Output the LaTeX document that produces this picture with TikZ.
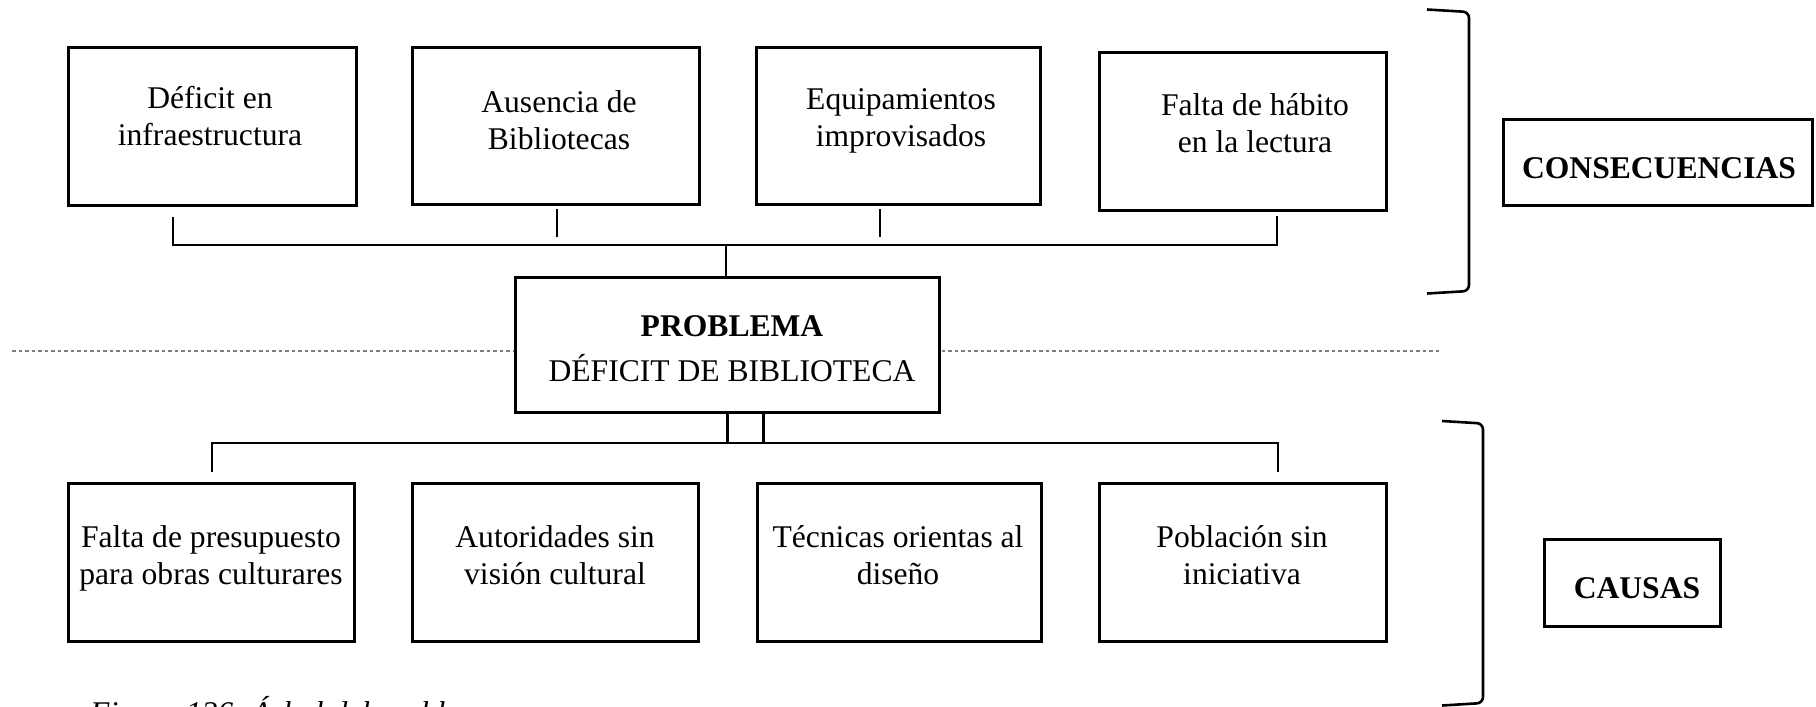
\documentclass[tikz,border=0pt]{standalone}
\usepackage{fontspec}
\setmainfont{Liberation Serif}
\begin{document}
\begin{tikzpicture}[x=1pt,y=-1pt,
  box/.style={draw, line width=2.6pt, inner sep=0pt, fill=white},
  txt/.style={font=\fontsize{31.6}{37}\selectfont, align=center, inner sep=0pt},
  conn/.style={line width=2.2pt},
  brk/.style={line width=2.6pt, rounded corners=6pt},
  sep/.style={draw=black!50, line width=1.8pt, dash pattern=on 3.5pt off 3pt}]
\useasboundingbox (0,0) rectangle (1816,707);
\clip (0,0) rectangle (1816,707);
% separator
\coordinate (dl) at (12,351);
\coordinate (dr) at (1442,351);
\draw[sep] (dl) -- (dr);
% top row
\node[box, minimum width=288pt, minimum height=158pt] (c1) at (212.5,126.5) {};
\node[box, minimum width=287pt, minimum height=157pt] (c2) at (556,126) {};
\node[box, minimum width=284pt, minimum height=157pt] (c3) at (898.5,126) {};
\node[box, minimum width=287pt, minimum height=158pt] (c4) at (1243,131.5) {};
\node[txt] (c1t) at (210,119.5) {Déficit en\strut\\infraestructura\strut};
\node[txt] (c2t) at (559,124) {Ausencia de\strut\\Bibliotecas\strut};
\node[txt] (c3t) at (901,120.5) {Equipamientos\strut\\improvisados\strut};
\node[txt] (c4t) at (1255,126.5) {Falta de hábito\strut\\en la lectura\strut};
% problem
\node[box, minimum width=424pt, minimum height=135pt] (prob) at (727.5,345) {};
\node[txt, font=\fontsize{31.6}{45}\selectfont] (probt) at (732,350) {\textbf{PROBLEMA}\strut\\DÉFICIT DE BIBLIOTECA\strut};
% bottom row
\node[box, minimum width=286pt, minimum height=158pt] (b1) at (211.5,562.5) {};
\node[box, minimum width=286pt, minimum height=158pt] (b2) at (555.5,562.5) {};
\node[box, minimum width=284pt, minimum height=158pt] (b3) at (899.5,562.5) {};
\node[box, minimum width=287pt, minimum height=158pt] (b4) at (1243,562.5) {};
\node[txt] (b1t) at (211,558.5) {Falta de presupuesto\strut\\para obras culturares\strut};
\node[txt] (b2t) at (555,558.5) {Autoridades sin\strut\\visión cultural\strut};
\node[txt] (b3t) at (898,558.5) {Técnicas orientas al\strut\\diseño\strut};
\node[txt] (b4t) at (1242,558.5) {Población sin\strut\\iniciativa\strut};
% side labels
\node[box, minimum width=309pt, minimum height=86pt] (cons) at (1658,162.5) {};
\node[txt] (const) at (1659,171.5) {\textbf{CONSECUENCIAS}\strut};
\node[box, minimum width=176pt, minimum height=87pt] (caus) at (1632.5,583) {};
\node[txt] (caust) at (1637,591) {\textbf{CAUSAS}\strut};
% top connectors
\coordinate (tbus) at (726,245);
\draw[conn] ([xshift=-39.5pt,yshift=-10pt]c1.south) |- (tbus) -| ([xshift=34pt,yshift=-4.5pt]c4.south);
\draw[conn] (tbus) -- (tbus |- prob.north);
\draw[conn] ([xshift=1pt,yshift=-3.5pt]c2.south) -- ++(0,28);
\draw[conn] ([xshift=-18.5pt,yshift=-3.5pt]c3.south) -- ++(0,28);
% bottom connectors
\coordinate (bbus) at (745,443);
\draw[conn] (prob.south) -- (prob.south |- bbus);
\draw[conn] ([xshift=36pt]prob.south) -- ([xshift=36pt]prob.south |- bbus);
\draw[conn] ([xshift=0.5pt,yshift=10.5pt]b1.north) |- (bbus) -| ([xshift=35pt,yshift=10.5pt]b4.north);
% brackets
\draw[brk] (1427,9.5) -- (1469,12) -- (1469,291) -- (1427,293.5);
\draw[brk] (1442,421) -- (1483,423.5) -- (1483,703) -- (1442,705.5);
% caption (cut off at the lower edge, as in the reference)
\node[anchor=base west, inner sep=0pt, font=\fontsize{31.6}{37}\selectfont\itshape] (cap) at (90,723) {Figura 126. Árbol del problema};
\end{tikzpicture}
\end{document}
